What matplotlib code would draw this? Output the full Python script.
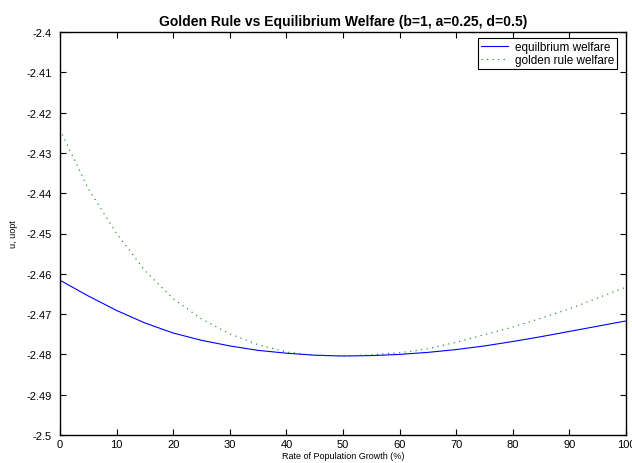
import numpy as np
import matplotlib
matplotlib.use('Agg')
import matplotlib.pyplot as plt

plt.rcParams['font.family'] = ['Liberation Sans', 'DejaVu Sans']

# growth rate (%) and the two welfare curves
growth = [0, 5, 10, 15, 20, 25, 30, 35, 40, 45, 50,
          55, 60, 65, 70, 75, 80, 85, 90, 95, 100]
equilibrium = [-2.4616, -2.4655, -2.4691, -2.4722, -2.4747, -2.4765, -2.4779,
               -2.4790, -2.4797, -2.4802, -2.4804, -2.4803, -2.4800, -2.4795,
               -2.4788, -2.4779, -2.4768, -2.4756, -2.4743, -2.4730, -2.4717]
golden_rule = [-2.4242, -2.4389, -2.4500, -2.4592, -2.4662, -2.4712, -2.4749,
               -2.4776, -2.4794, -2.4802, -2.4804, -2.4801, -2.4796, -2.4786,
               -2.4770, -2.4751, -2.4732, -2.4710, -2.4687, -2.4660, -2.4633]

xticks = [0, 10, 20, 30, 40, 50, 60, 70, 80, 90, 100]
yticks = [-2.5, -2.49, -2.48, -2.47, -2.46, -2.45, -2.44, -2.43, -2.42, -2.41, -2.4]
ytick_labels = ['-2.5', '-2.49', '-2.48', '-2.47', '-2.46', '-2.45',
                '-2.44', '-2.43', '-2.42', '-2.41', '-2.4']

fig = plt.figure(figsize=(6.32, 4.64), dpi=100)
ax = fig.add_axes([60 / 632, 28 / 464, 566 / 632, 403 / 464])

ax.plot(growth, equilibrium, color='#0000ff', linewidth=0.8,
        label='equilbrium welfare')
ax.plot(growth, golden_rule, color='#008000', linewidth=0.8,
        linestyle=(0, (1, 4)), label='golden rule welfare')

ax.set_xlim(0, 100)
ax.set_ylim(-2.5, -2.4)
ax.set_xticks(xticks)
ax.set_yticks(yticks)
ax.set_yticklabels(ytick_labels)

ax.tick_params(direction='in', length=4, width=0.8, top=True, right=True,
               labelsize=8, colors='black')
ax.tick_params(axis='x', pad=3)
ax.tick_params(axis='y', pad=6)
for side in ax.spines.values():
    side.set_linewidth(1.0)

ax.set_title('Golden Rule vs Equilibrium Welfare (b=1, a=0.25, d=0.5)',
             fontsize=10, fontweight='bold', pad=5)
ax.set_xlabel('Rate of Population Growth (%)', fontsize=6.5, labelpad=1)
ax.set_ylabel('u, uopt', fontsize=6.5, labelpad=6)

leg = ax.legend(loc='upper right', bbox_to_anchor=(0.984, 0.985),
                borderaxespad=0, fontsize=8.5, fancybox=False, framealpha=1,
                edgecolor='black', handlelength=2.3, handletextpad=0.6,
                borderpad=0.25, labelspacing=0.1)
leg.get_frame().set_linewidth(0.8)

fig.savefig('out.png', dpi=100)
